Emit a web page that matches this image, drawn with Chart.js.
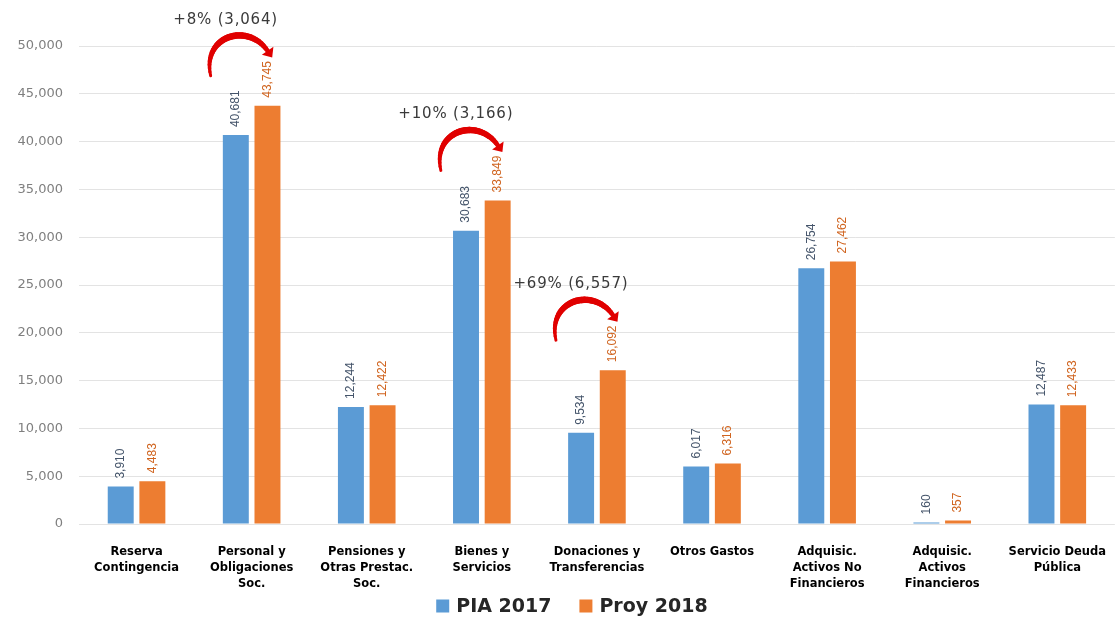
<!DOCTYPE html>
<html>
<head>
<meta charset="utf-8">
<script src="https://cdn.jsdelivr.net/npm/chart.js@4"></script>
<style>
html,body{margin:0;padding:0;background:#fff;}
#wrap{width:1118px;height:621px;position:relative;}
</style>
</head>
<body>
<div id="wrap"><canvas id="c"></canvas></div>
<script>
const categories = [
  ['Reserva','Contingencia'],
  ['Personal y','Obligaciones','Soc.'],
  ['Pensiones y','Otras Prestac.','Soc.'],
  ['Bienes y','Servicios'],
  ['Donaciones y','Transferencias'],
  ['Otros Gastos'],
  ['Adquisic.','Activos No','Financieros'],
  ['Adquisic.','Activos','Financieros'],
  ['Servicio Deuda','Pública']
];
const pia2017  = [3910, 40681, 12244, 30683, 9534, 6017, 26754, 160, 12487];
const proy2018 = [4483, 43745, 12422, 33849, 16092, 6316, 27462, 357, 12433];
const seriesNames = ['PIA 2017', 'Proy 2018'];
const yMin = 0, yMax = 50000, yStep = 5000;
const changeNotes = [
  {index: 1, text: '+8% (3,064)'},
  {index: 3, text: '+10% (3,166)'},
  {index: 4, text: '+69% (6,557)'}
];

const BLUE = '#5B9BD5', ORANGE = '#ED7D31';
const fmt = v => v.toLocaleString('en-US');

const overlay = {
  id: 'overlay',
  afterDatasetsDraw(chart) {
    const ctx = chart.ctx;
    const labelColors = ['#44546A', '#D0641F'];
    chart.data.datasets.forEach((ds, di) => {
      const meta = chart.getDatasetMeta(di);
      meta.data.forEach((bar, i) => {
        ctx.save();
        ctx.translate(bar.x, bar.y - 8);
        ctx.rotate(-Math.PI / 2);
        ctx.font = '12px "Liberation Sans", Arial, sans-serif';
        ctx.fillStyle = labelColors[di];
        ctx.textAlign = 'left';
        ctx.textBaseline = 'middle';
        ctx.fillText(fmt(ds.data[i]), 0, 0);
        ctx.restore();
      });
    });
    const xs = chart.scales.x, ys = chart.scales.y;
    changeNotes.forEach(n => {
      const cx = xs.getPixelForValue(n.index);
      const yO = ys.getPixelForValue(proy2018[n.index]);
      ctx.save();
      ctx.font = '15px "DejaVu Sans", sans-serif';
      try { ctx.letterSpacing = '0.8px'; } catch (e) {}
      ctx.fillStyle = '#3A3A3A';
      ctx.textAlign = 'center';
      ctx.textBaseline = 'middle';
      ctx.fillText(n.text, cx - 26, yO - 86);
      try { ctx.letterSpacing = '0px'; } catch (e) {}
      const sx = cx - 41, sy = yO - 30;
      const ex = cx + 16, ey = yO - 55;
      const c1x = cx - 50, c1y = yO - 70;
      const c2x = cx - 4, c2y = yO - 84;
      ctx.strokeStyle = '#E00000';
      ctx.lineCap = 'round';
      const N = 30;
      let px = sx, py = sy;
      for (let k = 1; k <= N; k++) {
        const t = k / N, u = 1 - t;
        const x = u*u*u*sx + 3*u*u*t*c1x + 3*u*t*t*c2x + t*t*t*ex;
        const y = u*u*u*sy + 3*u*u*t*c1y + 3*u*t*t*c2y + t*t*t*ey;
        ctx.lineWidth = 2 + 4.5 * Math.sin(Math.PI * Math.min(t * 0.9 + 0.05, 1) * 0.85);
        ctx.beginPath();
        ctx.moveTo(px, py);
        ctx.lineTo(x, y);
        ctx.stroke();
        px = x; py = y;
      }
      const ang = Math.atan2(ey - c2y, ex - c2x);
      ctx.fillStyle = '#E00000';
      ctx.beginPath();
      ctx.moveTo(ex + 8 * Math.cos(ang), ey + 8 * Math.sin(ang));
      ctx.lineTo(ex + 7 * Math.cos(ang + Math.PI / 2), ey + 7 * Math.sin(ang + Math.PI / 2));
      ctx.lineTo(ex + 7 * Math.cos(ang - Math.PI / 2), ey + 7 * Math.sin(ang - Math.PI / 2));
      ctx.closePath();
      ctx.fill();
      ctx.restore();
    });
  },
  afterDraw(chart) {
    // legend below the category labels
    const ctx = chart.ctx;
    const y = chart.height - 15;
    ctx.save();
    ctx.font = 'bold 19px "DejaVu Sans", sans-serif';
    ctx.textBaseline = 'middle';
    ctx.textAlign = 'left';
    const box = 13, gapBoxText = 7, gapItems = 28;
    const widths = chart.data.datasets.map(ds => box + gapBoxText + ctx.measureText(ds.label).width);
    const total = widths.reduce((a, b) => a + b, 0) + gapItems * (widths.length - 1);
    let x = (chart.chartArea.left + chart.chartArea.right) / 2 - total / 2 - 25;
    chart.data.datasets.forEach((ds, i) => {
      ctx.fillStyle = ds.backgroundColor;
      ctx.fillRect(x, y - box / 2, box, box);
      ctx.fillStyle = '#262626';
      ctx.fillText(ds.label, x + box + gapBoxText, y + 1);
      x += widths[i] + gapItems;
    });
    ctx.restore();
  }
};

new Chart(document.getElementById('c'), {
  type: 'bar',
  data: {
    labels: categories,
    datasets: [
      {label: seriesNames[0], data: pia2017, backgroundColor: BLUE},
      {label: seriesNames[1], data: proy2018, backgroundColor: ORANGE}
    ]
  },
  options: {
    responsive: true,
    maintainAspectRatio: false,
    animation: false,
    layout: {padding: {top: 46, right: 0, left: 0, bottom: 27}},
    datasets: {bar: {categoryPercentage: 0.55, barPercentage: 0.82}},
    plugins: {
      legend: {display: false},
      tooltip: {enabled: false}
    },
    scales: {
      x: {
        grid: {display: false},
        border: {display: false},
        ticks: {
          color: '#000',
          maxRotation: 0, autoSkip: false, padding: 12,
          font: {family: '"DejaVu Sans", sans-serif', size: 11.5, weight: 'bold', lineHeight: 1.38}
        },
        afterFit: s => { s.height = 70; }
      },
      y: {
        min: yMin, max: yMax,
        grid: {color: '#E3E3E3', drawTicks: false},
        border: {display: false},
        ticks: {
          stepSize: yStep, padding: 16, color: '#7F7F7F',
          font: {family: '"DejaVu Sans", sans-serif', size: 13},
          callback: v => fmt(v)
        },
        afterFit: s => { s.width = 79; }
      }
    }
  },
  plugins: [overlay]
});
</script>
</body>
</html>
